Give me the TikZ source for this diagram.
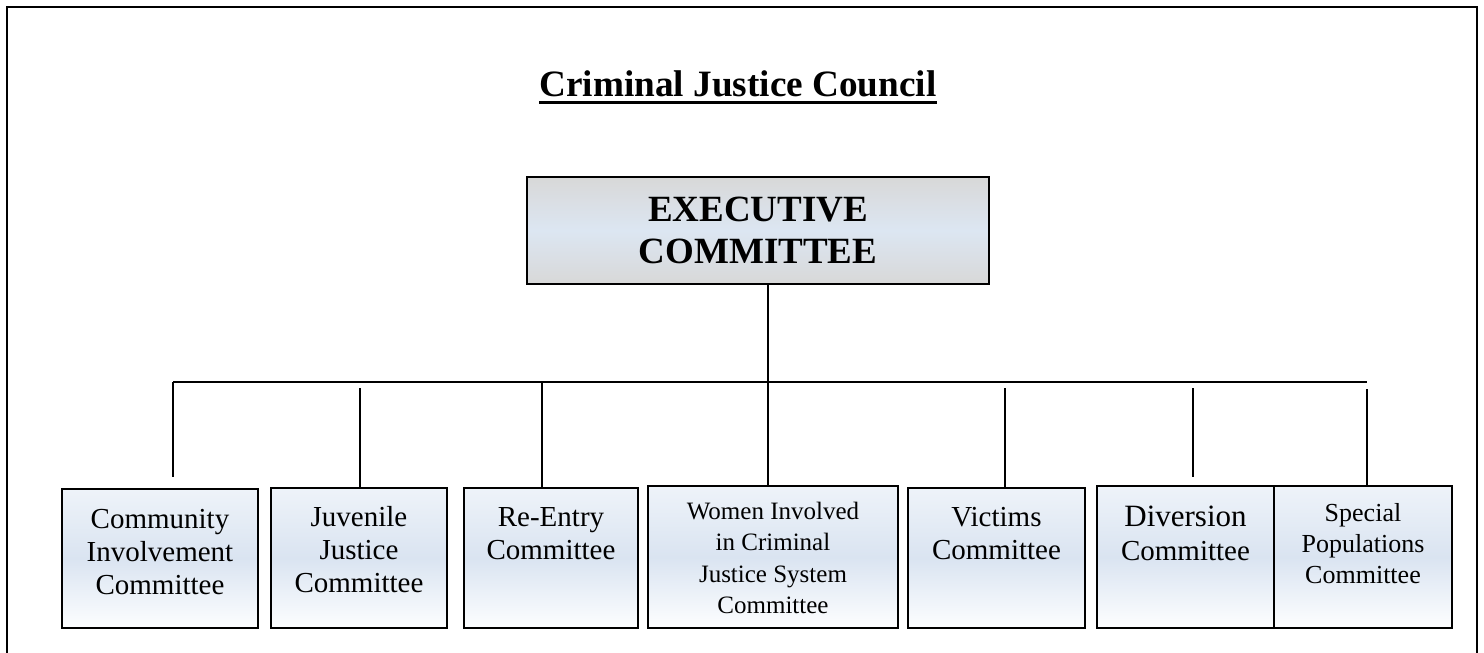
\documentclass[tikz,border=0pt]{standalone}
\usepackage{fontspec}
\setmainfont{Liberation Serif}
\usetikzlibrary{positioning}
\definecolor{execgray}{RGB}{216,216,216}
\definecolor{execblue}{RGB}{220,230,242}
\definecolor{cmtop}{RGB}{238,243,249}
\definecolor{cmmid}{RGB}{218,228,241}
\definecolor{cmbot}{RGB}{253,254,255}
% width, height, font size, line skip, first baseline, text
\newcommand{\cmtext}[6]{\parbox[c][#2][t]{#1}{\centering\fontsize{#3}{#4}\selectfont\rule{0pt}{#5}#6}}

\begin{document}
\begin{tikzpicture}[x=0.5pt,y=-0.5pt,
	conn/.style={line width=1pt},
	cmbox/.style={draw,line width=1pt,inner sep=0pt,anchor=north west,
		top color=cmtop,bottom color=cmbot,middle color=cmmid}]
		\useasboundingbox (0,0) rectangle (1484,653);
		% frame
		\draw[line width=1.2pt] (7,653) -- (7,7) -- (1477,7) -- (1477,653);
		% title
		\node[inner sep=0pt,anchor=base,font=\bfseries\fontsize{18.6}{22}\selectfont] (title) at (738,96) {Criminal Justice Council};
		\draw[line width=1.5pt] ([yshift=-3pt]title.base west) -- ([yshift=-3pt]title.base east);
		% executive
		\node[draw,line width=1pt,minimum width=231pt,minimum height=53.5pt,inner sep=0pt,
			top color=execgray,bottom color=execgray,middle color=execblue,
			align=center,font=\bfseries\fontsize{18.5}{21}\selectfont] (exec) at (758,230.5) {EXECUTIVE\\COMMITTEE};
		
		%% committees
		\node[cmbox] (comm) at (61,488) {\cmtext{98pt}{69.5pt}{14.5}{16.5}{19.5pt}{Community\\Involvement\\Committee}};
		\node[cmbox] (juv) at (270,487) {\cmtext{88pt}{70pt}{14.5}{16.5}{19pt}{Juvenile\\Justice\\Committee}};
		\node[cmbox] (reentry) at (463,487) {\cmtext{87pt}{70pt}{14.5}{16.5}{19pt}{Re-Entry\\Committee}};
		\node[cmbox] (women) at (647,485) {\cmtext{125pt}{71pt}{12.5}{15.75}{16.5pt}{Women Involved\\in Criminal\\Justice System\\Committee}};
		\node[cmbox] (victims) at (907,487) {\cmtext{88.5pt}{70pt}{14.5}{16.5}{19pt}{Victims\\Committee}};
		\node[cmbox] (div) at (1096,485) {\cmtext{88.5pt}{71pt}{14.5}{17}{20pt}{{\fontsize{15.5}{17}\selectfont Diversion}\\Committee}};
		\node[cmbox] (spec) at (1273,485) {\cmtext{89pt}{71pt}{13}{15.5}{17.5pt}{Special\\Populations\\Committee}};
		
		%% connectors
		\coordinate (busL) at (173,381.5);
		\coordinate (busR) at (1367,381.5);
		\coordinate (cx) at (768,0);
		\draw[conn] (busL) -- (busR);
		\draw[conn] (exec.south -| cx) -- (women.north -| cx);
		\draw[conn] (busL) -- ([yshift=5.5pt]comm.north -| busL);
		\coordinate (juvtop) at (360,388);
		\draw[conn] (juvtop) -- (juv.north -| juvtop);
		\coordinate (retop) at (542,381.5);
		\draw[conn] (retop) -- (reentry.north -| retop);
		\coordinate (victop) at (1005,388);
		\draw[conn] (victop) -- (victims.north -| victop);
		\coordinate (divtop) at (1193,388);
		\draw[conn] (divtop) -- ([yshift=4pt]div.north -| divtop);
		\coordinate (spectop) at (1367,389);
		\draw[conn] (spectop) -- (spec.north -| spectop);
\end{tikzpicture}
\end{document}
